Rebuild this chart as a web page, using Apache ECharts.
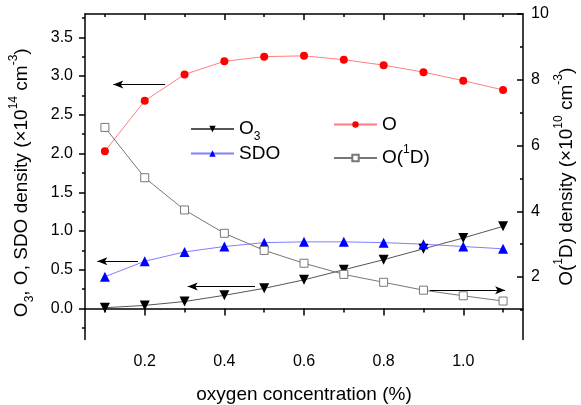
<!DOCTYPE html>
<html>
<head>
<meta charset="utf-8">
<script src="https://cdn.jsdelivr.net/npm/echarts@6/dist/echarts.min.js"></script>
<style>html,body{margin:0;padding:0;background:#fff}#c{width:581px;height:405px}</style>
</head>
<body>
<div id="c"></div>
<script>
// ---- data ----
const xValues = [0.1, 0.2, 0.3, 0.4, 0.5, 0.6, 0.7, 0.8, 0.9, 1.0, 1.1];
const o3 = [0.01, 0.04, 0.09, 0.17, 0.26, 0.37, 0.50, 0.63, 0.77, 0.91, 1.06];
const oAtom = [2.03, 2.68, 3.02, 3.19, 3.25, 3.26, 3.21, 3.14, 3.05, 2.94, 2.82];
const sdo = [0.41, 0.61, 0.73, 0.80, 0.85, 0.86, 0.86, 0.85, 0.83, 0.80, 0.77];
const o1d = [6.55, 5.02, 4.04, 3.33, 2.81, 2.42, 2.08, 1.84, 1.60, 1.43, 1.27];

const xMajorTicks = [0.2, 0.4, 0.6, 0.8, 1.0];
const xMinorTicks = [0.1, 0.3, 0.5, 0.7, 0.9, 1.1];
const yLeftMajor = [0, 0.5, 1.0, 1.5, 2.0, 2.5, 3.0, 3.5];
const yLeftMinor = [-0.25, 0.25, 0.75, 1.25, 1.75, 2.25, 2.75, 3.25, 3.75];
const yRightMajor = [2, 4, 6, 8, 10];
const yRightMinor = [1, 3, 5, 7, 9];

// annotation arrows in data units: [xFrom, xTo, y]
const arrowO = [0.251, 0.121, 2.89];
const arrowSDO = [0.183, 0.081, 0.61];
const arrowO3 = [0.477, 0.308, 0.284];
const arrowO1D = [0.916, 1.105, 1.60];

const FONT = 'Liberation Sans, Arial, sans-serif';
const pairs = ys => xValues.map((x, i) => [x, ys[i]]);
const arrowLine = a => ({
  silent: true, animation: false,
  symbol: ['none', 'arrow'], symbolSize: [6, 10],
  lineStyle: { color: '#000', width: 1, type: 'solid' },
  label: { show: false },
  data: [[{ coord: [a[0], a[2]] }, { coord: [a[1], a[2]] }]]
});

const rich = {
  n: { fontSize: 19, fontFamily: FONT, color: '#000', lineHeight: 22 },
  sub: { fontSize: 12, fontFamily: FONT, color: '#000', lineHeight: 12, padding: [16, 0, 0, 0] },
  sup: { fontSize: 12, fontFamily: FONT, color: '#000', lineHeight: 12, padding: [0, 0, 16, 0] }
};
const legendNames = {
  'O3': '{n|O}{sub|3}',
  'O': '{n|O}',
  'SDO': '{n|SDO}',
  'O(1D)': '{n|O(}{sup|1}{n|D)}'
};

const axisLineStyle = { show: true, lineStyle: { color: '#000', width: 1.5 } };
const baseX = { type: 'value', min: 0.05, max: 1.15, splitLine: { show: false }, gridIndex: 0 };
const baseYL = { type: 'value', min: -0.4, max: 3.8, splitLine: { show: false } };
const baseYR = { type: 'value', min: 0.1, max: 10, splitLine: { show: false } };

function legend(name, left, top) {
  return {
    data: [name], left: left, top: top, padding: 0,
    itemWidth: 43, itemHeight: 8, itemGap: 0,
    formatter: n => legendNames[n],
    textStyle: { rich: rich, padding: [0, 0, 0, 0] },
    selectedMode: false
  };
}

const chart = echarts.init(document.getElementById('c'), null, { renderer: 'canvas' });
chart.setOption({
  animation: false,
  backgroundColor: '#fff',
  grid: { left: 85, right: 58, top: 14, bottom: 65.5, containLabel: false, outerBoundsMode: 'none' },
  legend: [
    legend('O3', 190, 115),
    legend('O', 333, 115),
    legend('SDO', 190, 144),
    legend('O(1D)', 333, 144)
  ],
  xAxis: [
    Object.assign({}, baseX, {
      position: 'bottom',
      axisLine: axisLineStyle,
      axisTick: { show: true, customValues: xMajorTicks, length: 7, inside: false, lineStyle: { color: '#000', width: 1.5 } },
      axisLabel: { show: true, customValues: xMajorTicks, formatter: v => v.toFixed(1), fontSize: 16, fontFamily: FONT, color: '#000', margin: 14 },
      name: 'oxygen concentration (%)', nameLocation: 'middle', nameGap: 46,
      nameTextStyle: { fontSize: 19, fontFamily: FONT, color: '#000' }
    }),
    Object.assign({}, baseX, {
      position: 'bottom',
      axisLine: { show: false },
      axisTick: { show: true, customValues: xMinorTicks, length: 4, lineStyle: { color: '#000', width: 1.5 } },
      axisLabel: { show: false }
    }),
    Object.assign({}, baseX, {
      position: 'top',
      axisLine: axisLineStyle,
      axisTick: { show: true, customValues: xMajorTicks, length: 6, inside: true, lineStyle: { color: '#000', width: 1.5 } },
      axisLabel: { show: false }
    }),
    Object.assign({}, baseX, {
      position: 'top',
      axisLine: { show: false },
      axisTick: { show: true, customValues: xMinorTicks, length: 3, inside: true, lineStyle: { color: '#000', width: 1.5 } },
      axisLabel: { show: false }
    })
  ],
  yAxis: [
    Object.assign({}, baseYL, {
      position: 'left',
      axisLine: axisLineStyle,
      axisTick: { show: true, customValues: yLeftMajor, length: 6, lineStyle: { color: '#000', width: 1.5 } },
      axisLabel: { show: true, customValues: yLeftMajor, formatter: v => v.toFixed(1), fontSize: 16, fontFamily: FONT, color: '#000', margin: 12 },
      name: '{n|O}{sub|3}{n|, O, SDO density (×10}{sup|14}{n| cm}{sup|-3}{n|)}',
      nameLocation: 'middle', nameRotate: 90, nameGap: 52, nameMoveOverlap: false,
      nameTextStyle: { rich: rich, padding: [0, 12, 0, 0] }
    }),
    Object.assign({}, baseYL, {
      position: 'left',
      axisLine: { show: false },
      axisTick: { show: true, customValues: yLeftMinor, length: 3, lineStyle: { color: '#000', width: 1.5 } },
      axisLabel: { show: false }
    }),
    Object.assign({}, baseYR, {
      position: 'right',
      axisLine: axisLineStyle,
      axisTick: { show: true, customValues: yRightMajor, length: 6, inside: true, lineStyle: { color: '#000', width: 1.5 } },
      axisLabel: { show: true, customValues: yRightMajor, fontSize: 16, fontFamily: FONT, color: '#000', margin: 8 },
      name: '{n|O(}{sup|1}{n|D) density (×10}{sup|10}{n| cm}{sup|-3}{n|)}',
      nameLocation: 'middle', nameRotate: 90, nameGap: 33, nameMoveOverlap: false,
      nameTextStyle: { rich: rich }
    }),
    Object.assign({}, baseYR, {
      position: 'right',
      axisLine: { show: false },
      axisTick: { show: true, customValues: yRightMinor, length: 3, inside: true, lineStyle: { color: '#000', width: 1.5 } },
      axisLabel: { show: false }
    })
  ],
  series: [
    {
      name: 'O3', type: 'line', xAxisIndex: 0, yAxisIndex: 0, data: pairs(o3),
      symbol: 'triangle', symbolRotate: 180, symbolSize: 10,
      itemStyle: { color: '#000' }, lineStyle: { color: '#555', width: 1 },
      markLine: arrowLine(arrowO3)
    },
    {
      name: 'O', type: 'line', xAxisIndex: 0, yAxisIndex: 0, data: pairs(oAtom),
      symbol: 'circle', symbolSize: 8,
      itemStyle: { color: '#ff0000' }, lineStyle: { color: '#ff7f7f', width: 1 },
      markLine: arrowLine(arrowO)
    },
    {
      name: 'SDO', type: 'line', xAxisIndex: 0, yAxisIndex: 0, data: pairs(sdo),
      symbol: 'triangle', symbolSize: 10,
      itemStyle: { color: '#0000ff' }, lineStyle: { color: '#7f7fff', width: 1 },
      markLine: arrowLine(arrowSDO)
    },
    {
      name: 'O(1D)', type: 'line', xAxisIndex: 0, yAxisIndex: 2, data: pairs(o1d),
      symbol: 'rect', symbolSize: 8, showAllSymbol: true,
      itemStyle: { color: '#fff', borderColor: '#777', borderWidth: 1 },
      lineStyle: { color: '#777', width: 1 },
      markLine: arrowLine(arrowO1D)
    }
  ]
});
</script>
</body>
</html>
